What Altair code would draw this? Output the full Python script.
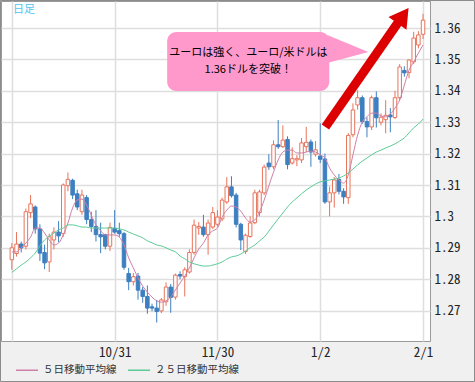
import altair as alt
import pandas as pd

# ---- candle data (EUR/USD daily, index 0 = 10/1 ... 88 = 2/1) ----
OPEN = [1.2862, 1.2882, 1.2912, 1.2905, 1.3012, 1.3030, 1.2960, 1.2885, 1.2855, 1.2925,
        1.2950, 1.2945, 1.3098, 1.3115, 1.3072, 1.3015, 1.3060, 1.2990, 1.2968, 1.2942,
        1.2942, 1.2905, 1.2962, 1.2955, 1.2945, 1.2818, 1.2792, 1.2810, 1.2765, 1.2745,
        1.2712, 1.2708, 1.2699, 1.2728, 1.2775, 1.2743, 1.2815, 1.2808, 1.2823, 1.2885,
        1.2963, 1.2966, 1.2942, 1.2966, 1.2975, 1.2992, 1.3046, 1.3094, 1.3068, 1.2975,
        1.2888, 1.2936, 1.2980, 1.3012, 1.3075, 1.3170, 1.3158, 1.3228, 1.3222, 1.3245,
        1.3170, 1.3180, 1.3180, 1.3222, 1.3237, 1.3198, 1.3192, 1.3183, 1.3046, 1.3075,
        1.3118, 1.3080, 1.3060, 1.3260, 1.3355, 1.3378, 1.3302, 1.3285, 1.3378, 1.3300,
        1.3308, 1.3323, 1.3315, 1.3378, 1.3465, 1.3458, 1.3492, 1.3546, 1.3580]
HIGH = [1.2915, 1.2950, 1.2920, 1.3025, 1.3068, 1.3035, 1.2975, 1.2910, 1.2945, 1.2965,
        1.2985, 1.3105, 1.3140, 1.3120, 1.3085, 1.3085, 1.3068, 1.3015, 1.3020, 1.2980,
        1.2945, 1.2980, 1.3020, 1.2980, 1.2950, 1.2836, 1.2820, 1.2820, 1.2775, 1.2780,
        1.2722, 1.2734, 1.2740, 1.2790, 1.2785, 1.2818, 1.2825, 1.2838, 1.2895, 1.2990,
        1.2982, 1.3005, 1.2990, 1.3030, 1.3020, 1.3060, 1.3125, 1.3128, 1.3075, 1.2980,
        1.2945, 1.3000, 1.3085, 1.3085, 1.3165, 1.3198, 1.3242, 1.3307, 1.3290, 1.3255,
        1.3220, 1.3195, 1.3250, 1.3285, 1.3245, 1.3240, 1.3297, 1.3200, 1.3095, 1.3125,
        1.3135, 1.3090, 1.3265, 1.3360, 1.3402, 1.3385, 1.3315, 1.3385, 1.3398, 1.3328,
        1.3370, 1.3345, 1.3400, 1.3485, 1.3478, 1.3500, 1.3588, 1.3590, 1.3645]
LOW = [1.2830, 1.2872, 1.2885, 1.2895, 1.2995, 1.2945, 1.2858, 1.2832, 1.2823, 1.2895,
       1.2918, 1.2935, 1.3080, 1.3055, 1.3020, 1.3005, 1.2975, 1.2950, 1.2920, 1.2883,
       1.2895, 1.2890, 1.2945, 1.2935, 1.2830, 1.2765, 1.2780, 1.2735, 1.2725, 1.2690,
       1.2698, 1.2662, 1.2692, 1.2715, 1.2693, 1.2735, 1.2800, 1.2745, 1.2818, 1.2878,
       1.2941, 1.2935, 1.2878, 1.2960, 1.2968, 1.2985, 1.3040, 1.3060, 1.2965, 1.2893,
       1.2880, 1.2932, 1.2975, 1.3000, 1.3068, 1.3148, 1.3150, 1.3215, 1.3218, 1.3150,
       1.3165, 1.3160, 1.3170, 1.3205, 1.3158, 1.3190, 1.3170, 1.3040, 1.3000, 1.3028,
       1.3070, 1.3040, 1.3040, 1.3252, 1.3340, 1.3295, 1.3252, 1.3275, 1.3283, 1.3290,
       1.3265, 1.3268, 1.3310, 1.3370, 1.3445, 1.3440, 1.3485, 1.3535, 1.3565]
CLOSE = [1.2900, 1.2912, 1.2900, 1.3015, 1.3040, 1.2960, 1.2883, 1.2852, 1.2935, 1.2950,
         1.2938, 1.3100, 1.3118, 1.3068, 1.3030, 1.3068, 1.2990, 1.2968, 1.2942, 1.2935,
         1.2905, 1.2965, 1.2950, 1.2945, 1.2838, 1.2792, 1.2808, 1.2765, 1.2745, 1.2708,
         1.2708, 1.2697, 1.2734, 1.2775, 1.2742, 1.2813, 1.2810, 1.2830, 1.2885, 1.2972,
         1.2968, 1.2942, 1.2979, 1.3012, 1.2998, 1.3052, 1.3094, 1.3066, 1.2975, 1.2925,
         1.2940, 1.2979, 1.3075, 1.3078, 1.3157, 1.3158, 1.3228, 1.3222, 1.3243, 1.3165,
         1.3184, 1.3184, 1.3234, 1.3236, 1.3205, 1.3212, 1.3182, 1.3046, 1.3075, 1.3116,
         1.3080, 1.3062, 1.3258, 1.3339, 1.3378, 1.3302, 1.3285, 1.3378, 1.3314, 1.3316,
         1.3322, 1.3317, 1.3378, 1.3476, 1.3457, 1.3498, 1.3568, 1.3578, 1.3625]

# ---- moving averages ----
MA5 = [1.2887, 1.2887, 1.2900, 1.2915, 1.2934, 1.2963, 1.2963, 1.2947, 1.2925, 1.2909,
       1.2915, 1.2941, 1.2979, 1.3027, 1.3052, 1.3055, 1.3036, 1.3004, 1.2973, 1.2954,
       1.2941, 1.2941, 1.2941, 1.2934, 1.2909, 1.2868, 1.2836, 1.2804, 1.2778, 1.2759,
       1.2743, 1.2731, 1.2727, 1.2731, 1.2743, 1.2766, 1.2788, 1.2810, 1.2836, 1.2868,
       1.2896, 1.2915, 1.2941, 1.2954, 1.2963, 1.2998, 1.3020, 1.3033, 1.3030, 1.3017,
       1.2995, 1.2982, 1.2989, 1.3014, 1.3052, 1.3097, 1.3141, 1.3180, 1.3205, 1.3211,
       1.3211, 1.3202, 1.3202, 1.3205, 1.3208, 1.3205, 1.3196, 1.3186, 1.3154, 1.3132,
       1.3116, 1.3106, 1.3132, 1.3196, 1.3259, 1.3301, 1.3317, 1.3329, 1.3329, 1.3320,
       1.3317, 1.3326, 1.3345, 1.3371, 1.3418, 1.3466, 1.3492, 1.3520, 1.3546]
MA25 = [1.2822, 1.2833, 1.2845, 1.2855, 1.2868, 1.2883, 1.2906, 1.2925, 1.2937, 1.2947,
        1.2957, 1.2963, 1.2973, 1.2973, 1.2970, 1.2966, 1.2966, 1.2963, 1.2963, 1.2963,
        1.2963, 1.2963, 1.2963, 1.2960, 1.2957, 1.2950, 1.2944, 1.2938, 1.2932, 1.2922,
        1.2916, 1.2909, 1.2906, 1.2900, 1.2893, 1.2887, 1.2874, 1.2865, 1.2855, 1.2849,
        1.2845, 1.2842, 1.2842, 1.2845, 1.2849, 1.2855, 1.2864, 1.2871, 1.2874, 1.2880,
        1.2890, 1.2900, 1.2909, 1.2922, 1.2934, 1.2953, 1.2973, 1.2992, 1.3011, 1.3030,
        1.3046, 1.3059, 1.3072, 1.3084, 1.3094, 1.3103, 1.3110, 1.3113, 1.3116, 1.3119,
        1.3122, 1.3129, 1.3138, 1.3151, 1.3164, 1.3176, 1.3186, 1.3196, 1.3205, 1.3211,
        1.3218, 1.3224, 1.3231, 1.3240, 1.3250, 1.3266, 1.3282, 1.3294, 1.3310]

SERIES_NAMES = ["５日移動平均線", "２５日移動平均線"]

TICK_IDX = [0, 22, 44, 66, 88]
TICK_LABELS = ["", "10/31", "11/30", "1/2", "2/1"]
Y_TICKS = [1.27, 1.28, 1.29, 1.30, 1.31, 1.32, 1.33, 1.34, 1.35, 1.36]

# ---- annotation (data coordinates) ----
CALLOUT_LINES = ["ユーロは強く、ユーロ/米ドルは", "1.36ドルを突破！"]
CALLOUT_LINE_X = [50.6, 50.6]
CALLOUT_LINE_Y = [1.3520, 1.3466]
BOX_X = [33.24, 67.93]
BOX_Y = [1.35873, 1.33994]
POINTER_X = [67.5, 76.3]
POINTER_TOP = [1.35777, 1.35236]
POINTER_BOTTOM = [1.34885, 1.35236]
ARROW_FROM = [67.1, 1.32847]
ARROW_TO = [83.05, 1.36261]
ARROW_HEAD = [83.72, 1.36392]

UP = "#e8735a"
DOWN = "#3d7fc0"
PINK = "#cf80a8"
GREEN = "#5ccb97"
RED = "#dd0000"
MONO = "Noto Sans Mono CJK JP, DejaVu Sans Mono, monospace"
JP = "Noto Sans CJK JP"

n = len(OPEN)
candles = pd.DataFrame({
    "i": list(range(n)), "open": OPEN, "high": HIGH, "low": LOW, "close": CLOSE,
})
candles["dir"] = ["up" if c >= o else "down" for o, c in zip(OPEN, CLOSE)]

ma = pd.DataFrame({
    "i": list(range(n)) * 2,
    "v": MA5 + MA25,
    "s": [SERIES_NAMES[0]] * n + [SERIES_NAMES[1]] * n,
})

xscale = alt.Scale(domain=[-1.254, 88.42], nice=False, zero=False)
yscale = alt.Scale(domain=[1.26032, 1.3686], nice=False, zero=False)

label_expr = "".join(
    f"datum.value == {v} ? '{t}' : " for v, t in zip(TICK_IDX, TICK_LABELS)
) + "''"

xaxis = alt.Axis(values=TICK_IDX, labelExpr=label_expr, title=None, grid=True,
                 gridColor="#dedede", gridWidth=1.5, domain=False, ticks=False,
                 labelFont=MONO, labelFontSize=13, labelColor="#222",
                 labelPadding=5, labelFlush=False, labelOverlap=False)
yaxis = alt.Axis(values=Y_TICKS, format=".2~f", orient="right", title=None,
                 grid=True, gridColor="#dedede", gridWidth=1.5, domain=False,
                 ticks=False, labelFont=MONO, labelFontSize=13, labelColor="#222",
                 labelPadding=4, labelOverlap=False)


def X(field):
    return alt.X(field, type="quantitative", scale=xscale, axis=xaxis)


def Y(field):
    return alt.Y(field, type="quantitative", scale=yscale, axis=yaxis)


dir_stroke = alt.Stroke("dir:N", scale=alt.Scale(domain=["up", "down"], range=[UP, DOWN]), legend=None)

wicks = alt.Chart(candles).mark_rule(strokeWidth=1).encode(
    x=X("i"), y=Y("low"), y2="high", stroke=dir_stroke
)
bodies = alt.Chart(candles).mark_bar(size=3.5, strokeWidth=1).encode(
    x=X("i"), y=Y("open"), y2="close",
    fill=alt.Fill("dir:N", scale=alt.Scale(domain=["up", "down"], range=["white", DOWN]), legend=None),
    stroke=dir_stroke,
)

lines = alt.Chart(ma).mark_line(strokeWidth=1, interpolate="monotone").encode(
    x=X("i"), y=Y("v"),
    color=alt.Color("s:N", scale=alt.Scale(domain=SERIES_NAMES, range=[PINK, GREEN]),
                    sort=SERIES_NAMES,
                    legend=alt.Legend(title=None, orient="none", legendX=14, legendY=357,
                                      direction="horizontal", symbolType="stroke",
                                      symbolSize=484, symbolStrokeWidth=1.5,
                                      labelFont=JP, labelFontSize=10.5, labelColor="#333",
                                      labelOffset=4, columnPadding=8, padding=0,
                                      labelLimit=200)),
)

box_df = pd.DataFrame({"x": [BOX_X[0]], "x2": [BOX_X[1]], "y": [BOX_Y[0]], "y2": [BOX_Y[1]]})
box = alt.Chart(box_df).mark_rect(fill="#ff99cc", cornerRadius=9).encode(
    x=X("x"), x2="x2", y=Y("y"), y2="y2"
)
ptr_df = pd.DataFrame({"x": POINTER_X, "y": POINTER_TOP, "y2": POINTER_BOTTOM})
pointer = alt.Chart(ptr_df).mark_area(fill="#ff99cc", opacity=1).encode(
    x=X("x"), y=Y("y"), y2="y2"
)
txt_df = pd.DataFrame({"x": CALLOUT_LINE_X, "y": CALLOUT_LINE_Y, "t": CALLOUT_LINES})
callout_text = alt.Chart(txt_df).mark_text(font=JP, fontSize=11, color="#000",
                                           align="center", baseline="middle").encode(
    x=X("x"), y=Y("y"), text="t:N"
)

arrow_df = pd.DataFrame({"x": [ARROW_FROM[0]], "y": [ARROW_FROM[1]],
                         "x2": [ARROW_TO[0]], "y2": [ARROW_TO[1]]})
shaft = alt.Chart(arrow_df).mark_rule(color=RED, strokeWidth=9, strokeCap="butt").encode(
    x=X("x"), y=Y("y"), x2="x2", y2="y2"
)
head_df = pd.DataFrame({"x": [ARROW_HEAD[0]], "y": [ARROW_HEAD[1]]})
head = alt.Chart(head_df).mark_point(shape="triangle-up", filled=True, size=484,
                                     angle=35.5, color=RED, opacity=1).encode(
    x=X("x"), y=Y("y")
)

one = pd.DataFrame({"k": [0]})
title_mark = alt.Chart(one).mark_text(text="日足", font=JP, fontSize=11, color="#55c4ee",
                                      align="left", baseline="middle").encode(
    x=alt.value(12), y=alt.value(9)
)
frame = alt.Chart(one).mark_rect(fillOpacity=0, stroke="#8c8c8c", strokeWidth=1).encode(
    x=alt.value(-0.5), x2=alt.value(473.5), y=alt.value(-0.5), y2=alt.value(380.5)
)

chart = alt.layer(
    wicks, bodies, lines, box, pointer, callout_text, shaft, head, title_mark, frame
).properties(
    width=429, height=340,
    autosize=alt.AutoSizeParams(type="none"),
    padding={"left": 1, "top": 1, "right": 45, "bottom": 41},
    background="#f0f0f0",
).configure_view(
    fill="white", stroke="#9a9a9a", strokeWidth=1
)

chart.save("out.html", embed_options={"renderer": "svg", "actions": False})
